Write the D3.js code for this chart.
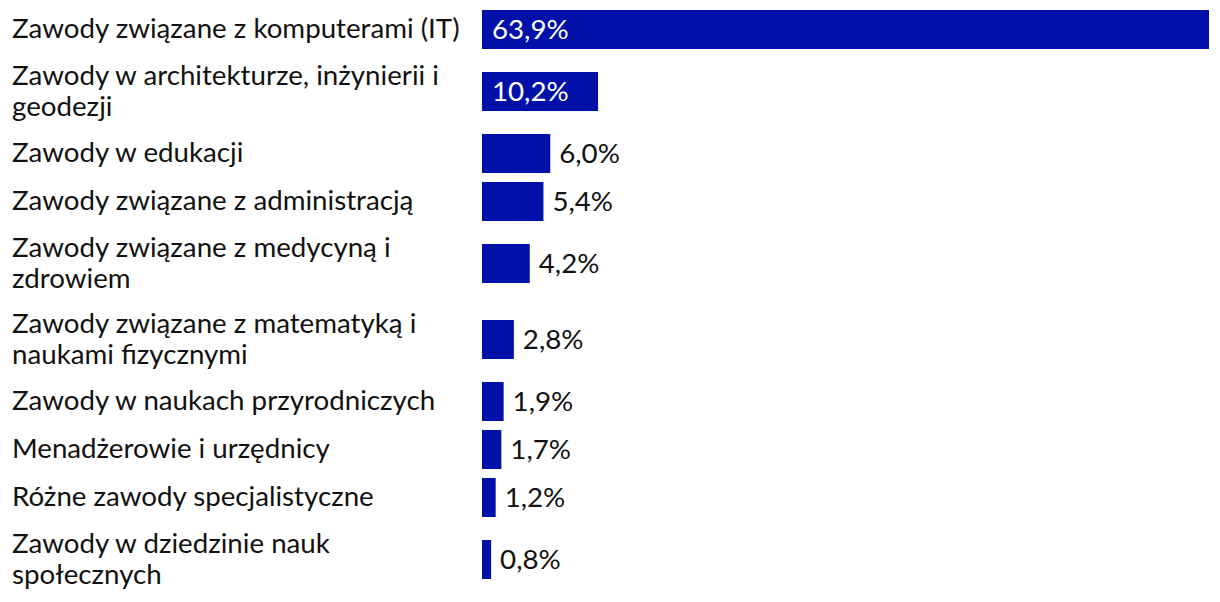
<!DOCTYPE html>
<html>
<head>
<meta charset="utf-8">
<script src="https://cdn.jsdelivr.net/npm/d3@7"></script>
<style>
  html, body { margin: 0; padding: 0; background: #fff; }
  svg { display: block; font-family: Lato, "Noto Sans", sans-serif; }
</style>
</head>
<body>
<svg id="chart" width="1220" height="602"></svg>
<script>
const categories = [
  "Zawody związane z komputerami (IT)",
  "Zawody w architekturze, inżynierii i\ngeodezji",
  "Zawody w edukacji",
  "Zawody związane z administracją",
  "Zawody związane z medycyną i\nzdrowiem",
  "Zawody związane z matematyką i\nnaukami fizycznymi",
  "Zawody w naukach przyrodniczych",
  "Menadżerowie i urzędnicy",
  "Różne zawody specjalistyczne",
  "Zawody w dziedzinie nauk\nspołecznych"
];
const values = [63.9, 10.2, 6.0, 5.4, 4.2, 2.8, 1.9, 1.7, 1.2, 0.8];
const valueLabels = ["63,9%", "10,2%", "6,0%", "5,4%", "4,2%", "2,8%", "1,9%", "1,7%", "1,2%", "0,8%"];

const barColor = "#0010a8";
const fontSize = 27.7;
const rowLine = 28;
const textLine = 31;
const rowPad = 20;
const barH = 39;

const svg = d3.select("#chart");

const rows = categories.map((c, i) => {
  const lines = c.split("\n");
  return { cat: c, lines, value: values[i], label: valueLabels[i], units: rowPad + rowLine * lines.length };
});
let acc = 0;
rows.forEach(r => { r.start = acc; acc += r.units; r.mid = r.start + r.units / 2; });

const y = d3.scaleLinear().domain([0, acc]).range([5.5, 597.5]);
const x = d3.scaleLinear().domain([0, d3.max(values)]).range([482, 1209]);

const g = svg.selectAll("g.row").data(rows).join("g").attr("class", "row");

g.append("rect")
  .attr("x", x(0))
  .attr("y", d => y(d.mid) - barH / 2)
  .attr("width", d => x(d.value) - x(0))
  .attr("height", barH)
  .attr("fill", barColor);

g.append("text")
  .attr("font-size", fontSize)
  .attr("fill", "#111")
  .each(function(d) {
    const t = d3.select(this);
    const n = d.lines.length;
    const firstBase = y(d.mid) - (n - 1) * textLine / 2 + fontSize * 0.32;
    d.lines.forEach((ln, k) => {
      t.append("tspan").attr("x", 12).attr("y", firstBase + k * textLine).text(ln);
    });
  });

g.append("text")
  .attr("font-size", fontSize)
  .attr("y", d => y(d.mid) + fontSize * 0.36)
  .attr("x", d => (x(d.value) - x(0)) > 100 ? x(0) + 10 : x(d.value) + 9)
  .attr("fill", d => (x(d.value) - x(0)) > 100 ? "#fff" : "#111")
  .text(d => d.label);
</script>
</body>
</html>
